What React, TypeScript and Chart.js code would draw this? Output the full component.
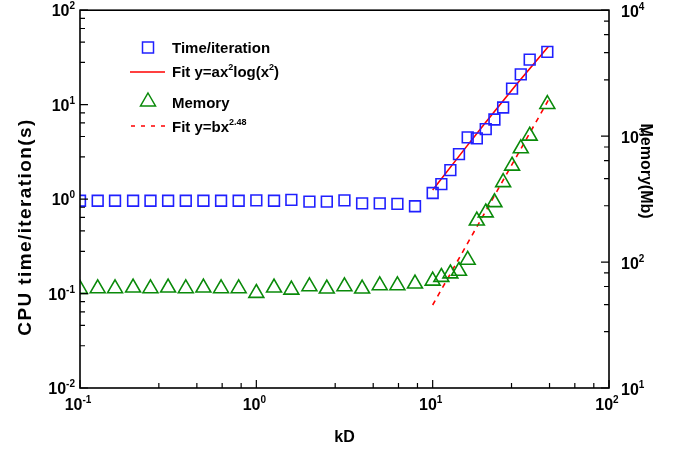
import React, { useEffect, useRef } from 'react';
import { Chart, registerables } from 'chart.js';

Chart.register(...registerables);

// kD sample positions (shared by both series)
const kD = [
  0.1, 0.126, 0.158, 0.2, 0.251, 0.316, 0.398, 0.501, 0.631, 0.794,
  1, 1.26, 1.58, 2, 2.51, 3.16, 3.98, 5.01, 6.31, 7.94,
  10, 11.2, 12.6, 14.1, 15.8, 17.8, 20, 22.4, 25.1, 28.2, 31.6, 35.5, 44.7,
];

// CPU time per iteration (s), left axis
const timePerIteration = [
  0.96, 0.96, 0.96, 0.96, 0.96, 0.96, 0.96, 0.96, 0.96, 0.96,
  0.97, 0.96, 0.98, 0.94, 0.94, 0.97, 0.9, 0.9, 0.89, 0.84,
  1.16, 1.44, 2.03, 2.99, 4.5, 4.39, 5.5, 6.97, 9.33, 14.8, 20.9, 30, 36.2,
];

// Memory (Mb), right axis
const memoryMb = [
  61, 61.8, 61.8, 62.5, 61.8, 62.5, 61.8, 62.5, 61.8, 61.8,
  56.7, 62.5, 60.2, 64.1, 61.4, 64.1, 61.4, 65.3, 65.3, 67.3,
  71, 76, 81, 85, 104, 213, 247, 298, 430, 581, 798, 1005, 1795,
];

// Fit y = a x^2 log(x^2)
const fitTimeX = [10, 15, 20, 30, 45.2];
const fitTimeY = [1.25, 3.3, 6.5, 16.5, 41];

// Fit y = b x^2.48
const fitMemX = [10, 20, 30, 45.2];
const fitMemY = [45.6, 254, 695, 1920];

// Axis decades (label exponents)
const xDecades = [-1, 0, 1, 2];
const yLeftDecades = [-2, -1, 0, 1, 2];
const yRightDecades = [1, 2, 3, 4];
const minorSteps = [2.8, 4.6, 6.4, 8.2];

const BLUE = '#2020ff';
const GREEN = '#0a8a0a';
const RED = '#ff0000';
const FONT = '"Liberation Sans", Arial, sans-serif';

function drawPow(
  ctx: CanvasRenderingContext2D,
  exp: string,
  x: number,
  y: number,
  align: 'left' | 'center' | 'right',
) {
  const baseFont = `bold 16px ${FONT}`;
  const supFont = `bold 10px ${FONT}`;
  ctx.font = baseFont;
  const w1 = ctx.measureText('10').width;
  ctx.font = supFont;
  const w2 = ctx.measureText(exp).width;
  const total = w1 + w2;
  const x0 = align === 'right' ? x - total : align === 'center' ? x - total / 2 : x;
  ctx.textAlign = 'left';
  ctx.textBaseline = 'alphabetic';
  ctx.font = baseFont;
  ctx.fillText('10', x0, y);
  ctx.font = supFont;
  ctx.fillText(exp, x0 + w1, y - 7);
}

function drawRich(
  ctx: CanvasRenderingContext2D,
  parts: { t: string; sup?: boolean }[],
  x: number,
  y: number,
) {
  let cx = x;
  ctx.textAlign = 'left';
  ctx.textBaseline = 'alphabetic';
  for (const p of parts) {
    ctx.font = p.sup ? `bold 9px ${FONT}` : `bold 15px ${FONT}`;
    ctx.fillText(p.t, cx, p.sup ? y - 7 : y);
    cx += ctx.measureText(p.t).width;
  }
}

const framePlugin = {
  id: 'frameAndLabels',
  afterDraw(chart: Chart) {
    const { ctx, chartArea } = chart;
    const { left, right, top, bottom } = chartArea;
    const xs = chart.scales.x;
    const yl = chart.scales.y;
    const yr = chart.scales.y2;
    ctx.save();
    ctx.strokeStyle = '#000';
    ctx.fillStyle = '#000';

    // frame
    ctx.lineWidth = 1.6;
    ctx.strokeRect(left, top, right - left, bottom - top);

    // ticks (inward)
    ctx.lineWidth = 1.2;
    ctx.beginPath();
    const tick = (x1: number, y1: number, x2: number, y2: number) => {
      ctx.moveTo(x1, y1);
      ctx.lineTo(x2, y2);
    };
    for (let i = 0; i < yLeftDecades.length; i++) {
      const d = yLeftDecades[i];
      const py = yl.getPixelForValue(Math.pow(10, d));
      tick(left, py, left + 8, py);
      if (i < yLeftDecades.length - 1) {
        for (const m of minorSteps) {
          const my = yl.getPixelForValue(m * Math.pow(10, d));
          tick(left, my, left + 5, my);
        }
      }
    }
    for (let i = 0; i < yRightDecades.length; i++) {
      const d = yRightDecades[i];
      const py = yr.getPixelForValue(Math.pow(10, d));
      tick(right, py, right - 8, py);
      if (i < yRightDecades.length - 1) {
        for (const m of minorSteps) {
          const my = yr.getPixelForValue(m * Math.pow(10, d));
          tick(right, my, right - 5, my);
        }
      }
    }
    for (let i = 0; i < xDecades.length; i++) {
      const d = xDecades[i];
      const px = xs.getPixelForValue(Math.pow(10, d));
      tick(px, bottom, px, bottom - 8);
      if (i < xDecades.length - 1) {
        for (const m of minorSteps) {
          const mx = xs.getPixelForValue(m * Math.pow(10, d));
          tick(mx, bottom, mx, bottom - 5);
        }
      }
    }
    ctx.stroke();

    // tick labels
    for (const d of yLeftDecades) {
      drawPow(ctx, String(d), left - 5, yl.getPixelForValue(Math.pow(10, d)) + 6, 'right');
    }
    for (const d of yRightDecades) {
      drawPow(ctx, String(d), right + 12, yr.getPixelForValue(Math.pow(10, d)) + 7, 'left');
    }
    for (const d of xDecades) {
      drawPow(ctx, String(d), xs.getPixelForValue(Math.pow(10, d)) - 2, bottom + 22, 'center');
    }

    // axis titles
    ctx.font = `bold 16px ${FONT}`;
    ctx.textAlign = 'center';
    ctx.textBaseline = 'middle';
    ctx.fillText('kD', (left + right) / 2, bottom + 50);

    ctx.save();
    ctx.translate(26, 227);
    ctx.rotate(-Math.PI / 2);
    ctx.font = `bold 19px ${FONT}`;
    (ctx as any).letterSpacing = '1.4px';
    ctx.fillText('CPU time/iteration(s)', 0, 0);
    (ctx as any).letterSpacing = '0px';
    ctx.restore();

    ctx.save();
    ctx.translate(645, 171);
    ctx.rotate(Math.PI / 2);
    ctx.font = `bold 16px ${FONT}`;
    ctx.fillText('Memory(Mb)', 0, 0);
    ctx.restore();

    // legend
    const symX = 148;
    const textX = 172;
    ctx.lineWidth = 1.5;
    ctx.strokeStyle = BLUE;
    ctx.strokeRect(symX - 5.5, 42, 11, 11);
    ctx.strokeStyle = RED;
    ctx.beginPath();
    ctx.moveTo(130, 72);
    ctx.lineTo(165, 72);
    ctx.stroke();
    ctx.strokeStyle = GREEN;
    ctx.beginPath();
    ctx.moveTo(symX, 93);
    ctx.lineTo(symX + 7.5, 106);
    ctx.lineTo(symX - 7.5, 106);
    ctx.closePath();
    ctx.stroke();
    ctx.strokeStyle = RED;
    ctx.setLineDash([4, 6]);
    ctx.beginPath();
    ctx.moveTo(131, 126);
    ctx.lineTo(165, 126);
    ctx.stroke();
    ctx.setLineDash([]);

    ctx.fillStyle = '#000';
    drawRich(ctx, [{ t: 'Time/iteration' }], textX, 53);
    drawRich(
      ctx,
      [{ t: 'Fit y=ax' }, { t: '2', sup: true }, { t: 'log(x' }, { t: '2', sup: true }, { t: ')' }],
      textX,
      77,
    );
    drawRich(ctx, [{ t: 'Memory' }], textX, 108);
    drawRich(ctx, [{ t: 'Fit y=bx' }, { t: '2.48', sup: true }], textX, 132);

    ctx.restore();
  },
};

export default function App() {
  const canvasRef = useRef<HTMLCanvasElement | null>(null);

  useEffect(() => {
    const canvas = canvasRef.current;
    if (!canvas) return;
    const toPoints = (xs: number[], ys: number[]) => xs.map((x, i) => ({ x, y: ys[i] }));

    const chart = new Chart(canvas, {
      type: 'scatter',
      data: {
        datasets: [
          {
            label: 'Time/iteration',
            data: toPoints(kD, timePerIteration),
            yAxisID: 'y',
            pointStyle: 'rect',
            pointRadius: 7.6,
            borderColor: BLUE,
            backgroundColor: 'rgba(0,0,0,0)',
            borderWidth: 1.6,
            clip: 0,
          },
          {
            label: 'Fit y=ax2log(x2)',
            data: toPoints(fitTimeX, fitTimeY),
            yAxisID: 'y',
            showLine: true,
            pointRadius: 0,
            borderColor: RED,
            borderWidth: 1.6,
          },
          {
            label: 'Memory',
            data: toPoints(kD, memoryMb),
            yAxisID: 'y2',
            pointStyle: 'triangle',
            pointRadius: 8.6,
            borderColor: GREEN,
            backgroundColor: 'rgba(0,0,0,0)',
            borderWidth: 1.6,
            clip: 0,
          },
          {
            label: 'Fit y=bx2.48',
            data: toPoints(fitMemX, fitMemY),
            yAxisID: 'y2',
            showLine: true,
            pointRadius: 0,
            borderColor: RED,
            borderWidth: 1.6,
            borderDash: [5, 5],
          },
        ],
      },
      options: {
        responsive: false,
        animation: false,
        devicePixelRatio: 1,
        layout: { padding: { left: 80, right: 67, top: 10, bottom: 64 } },
        plugins: { legend: { display: false }, tooltip: { enabled: false } },
        scales: {
          x: { type: 'logarithmic', min: 0.1, max: 100, display: false },
          y: { type: 'logarithmic', min: 0.01, max: 100, display: false },
          y2: { type: 'logarithmic', min: 10, max: 10000, display: false, position: 'right' },
        },
      },
      plugins: [framePlugin],
    });
    return () => chart.destroy();
  }, []);

  return (
    <div style={{ position: 'absolute', left: 0, top: 0, width: 676, height: 452, background: '#fff' }}>
      <canvas ref={canvasRef} width={676} height={452} />
    </div>
  );
}
